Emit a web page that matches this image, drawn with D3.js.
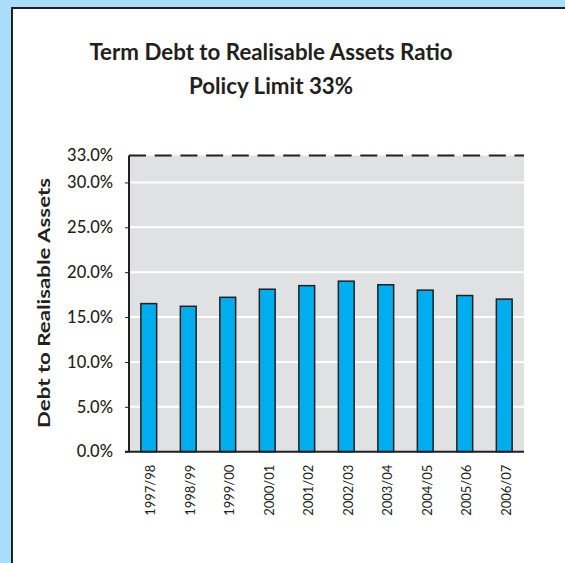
<!DOCTYPE html>
<html><head><meta charset="utf-8">
<script src="https://cdn.jsdelivr.net/npm/d3@7"></script>
<style>html,body{margin:0;padding:0;background:#fff;overflow:hidden;}svg{display:block;overflow:hidden;}</style>
</head><body>
<svg id="c" width="565" height="563"></svg>
<script>
const categories = ["1997/98","1998/99","1999/00","2000/01","2001/02","2002/03","2003/04","2004/05","2005/06","2006/07"];
const ratios = [16.5, 16.2, 17.2, 18.1, 18.5, 19.0, 18.6, 18.0, 17.4, 17.0];
const tickValues = [0, 5, 10, 15, 20, 25, 30, 33];
const policyLimit = 33;
const titleLines = ["Term Debt to Realisable Assets Ratio", "Policy Limit 33%"];
const yLabel = "Debt to Realisable Assets";

const svg = d3.select("#c");
const W = 565, H = 563;
// frame
svg.append("rect").attr("x",0).attr("y",0).attr("width",W).attr("height",H).attr("fill","#a9ddf8");
svg.append("rect").attr("x",12).attr("y",8).attr("width",W+20).attr("height",H+20).attr("fill","#fff")
  .attr("stroke","#231f20").attr("stroke-width",2);

const m = {left:129, right:524, top:155.5, bottom:451.7};
const x = d3.scaleBand().domain(categories).range([m.left, m.right]).paddingInner(0.6).paddingOuter(0.3);
const y = d3.scaleLinear().domain([0, 33]).range([m.bottom, m.top]);

// title
svg.append("g").selectAll("text").data(titleLines).join("text")
  .attr("x", 271).attr("y",(d,i)=>60+i*34).attr("text-anchor","middle")
  .attr("font-family","Lato, sans-serif").attr("font-weight","bold").attr("font-size",22.3)
  .attr("fill","#231f20").text(d=>d);

// plot background
svg.append("rect").attr("x",m.left).attr("y",y(33)).attr("width",m.right-m.left).attr("height",y(0)-y(33)).attr("fill","#e0e1e3");

// gridlines
svg.append("g").selectAll("line").data(tickValues.filter(v=>v>0 && v<33)).join("line")
  .attr("x1",m.left).attr("x2",m.right).attr("y1",d=>y(d)).attr("y2",d=>y(d))
  .attr("stroke","#fff").attr("stroke-width",2);

// policy limit
svg.append("line").attr("x1",m.left).attr("x2",m.right).attr("y1",y(policyLimit)).attr("y2",y(policyLimit))
  .attr("stroke","#231f20").attr("stroke-width",2).attr("stroke-dasharray","17,8.7");

// bars
svg.append("g").selectAll("rect").data(ratios).join("rect")
  .attr("x",(d,i)=>x(categories[i])).attr("width",x.bandwidth())
  .attr("y",d=>y(d)).attr("height",d=>y(0)-y(d))
  .attr("fill","#00aeef").attr("stroke","#231f20").attr("stroke-width",1.5);

// y axis
const yAxis = d3.axisLeft(y).tickValues(tickValues).tickFormat(d=>d3.format(".1f")(d)+"%").tickSize(4).tickPadding(12);
const gy = svg.append("g").attr("transform",`translate(${m.left},0)`).call(yAxis);
gy.select(".domain").attr("stroke","#231f20").attr("stroke-width",2).attr("d",`M0,${y(0)}V${y(33)}`);
gy.selectAll(".tick line").attr("stroke","#231f20").attr("stroke-width",1).filter(d=>d===33).remove();
gy.selectAll(".tick text").attr("font-family","Lato, sans-serif").attr("font-size",16.5).attr("font-weight","500").attr("fill","#231f20");

// x axis
const xAxis = d3.axisBottom(x).tickSize(0).tickPadding(0);
const gx = svg.append("g").attr("transform",`translate(0,${m.bottom})`).call(xAxis);
gx.select(".domain").attr("stroke","#231f20").attr("stroke-width",2).attr("d",`M${m.left-4},0H${m.right}`);
gx.selectAll(".tick text").attr("transform","rotate(-90)").attr("text-anchor","end")
  .attr("x",-13).attr("y",0).attr("dy","0.5em")
  .attr("font-family","Lato, sans-serif").attr("font-size",13).attr("fill","#231f20");

// y label
svg.append("text").attr("transform","translate(50,303) rotate(-90)").attr("text-anchor","middle")
  .attr("font-family","Lato, sans-serif").attr("font-weight","bold").attr("font-size",17)
  .attr("textLength",250).attr("lengthAdjust","spacingAndGlyphs")
  .attr("fill","#231f20").text(yLabel);
</script>
</body></html>
